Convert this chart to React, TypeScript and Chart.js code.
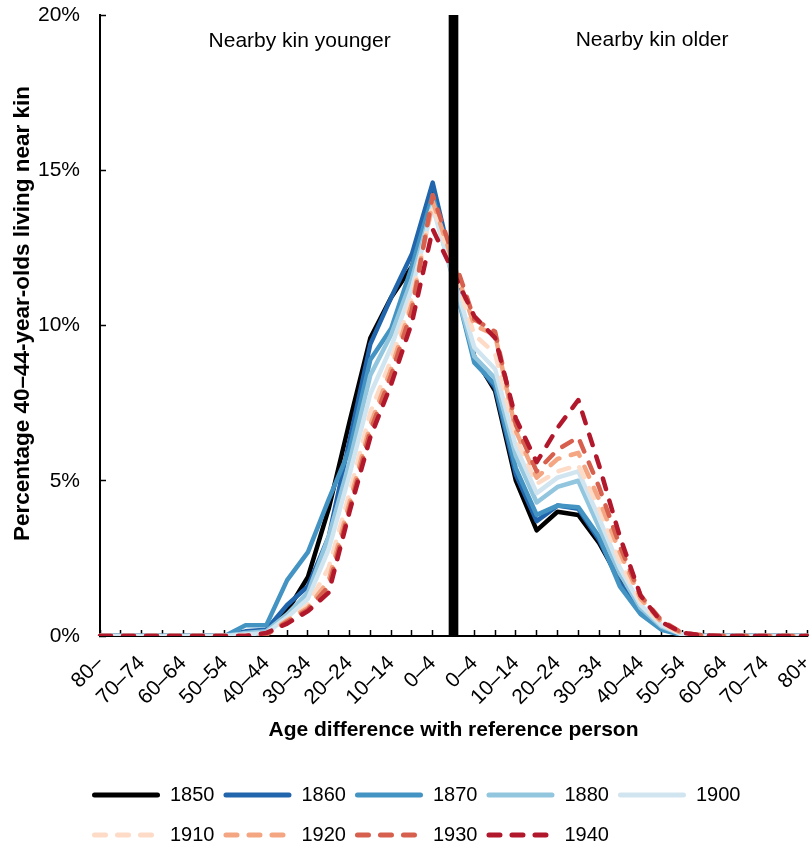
import React, { useEffect, useRef } from 'react';
import { Chart, registerables } from 'chart.js';

Chart.register(...registerables);

const FONT = "'Liberation Sans', Arial, Helvetica, sans-serif";

// Age-difference categories (left: kin younger, middle: reference, right: kin older)
const categories = [
  '80–', '75–79', '70–74', '65–69', '60–64', '55–59', '50–54', '45–49', '40–44',
  '35–39', '30–34', '25–29', '20–24', '15–19', '10–14', '5–9', '0–4',
  '',
  '0–4', '5–9', '10–14', '15–19', '20–24', '25–29', '30–34', '35–39', '40–44',
  '45–49', '50–54', '55–59', '60–64', '65–69', '70–74', '75–79', '80+',
];

const years = ['1850', '1860', '1870', '1880', '1900', '1910', '1920', '1930', '1940'];

// Percentage of 40–44-year-olds living near kin (middle slot is the reference divider)
const v1850 = [0, 0, 0, 0, 0, 0, 0, 0.05, 0.15, 0.8, 1.9, 4.1, 6.9, 9.6, 10.9, 11.9, 14.3, null, 9.0, 7.9, 5.0, 3.4, 4.0, 3.9, 3.0, 1.8, 0.9, 0.3, 0.05, 0, 0, 0, 0, 0, 0];
const v1860 = [0, 0, 0, 0, 0, 0, 0, 0.15, 0.2, 1.0, 1.6, 3.2, 6.3, 9.4, 10.9, 12.3, 14.6, null, 8.9, 8.0, 5.2, 3.7, 4.2, 4.1, 3.1, 1.7, 0.8, 0.25, 0.05, 0, 0, 0, 0, 0, 0];
const v1870 = [0, 0, 0, 0, 0, 0, 0, 0.35, 0.35, 1.8, 2.7, 4.4, 6.0, 8.9, 9.9, 11.9, 14.2, null, 8.8, 8.1, 5.4, 3.9, 4.2, 4.15, 3.2, 1.6, 0.7, 0.2, 0.03, 0, 0, 0, 0, 0, 0];
const v1880 = [0, 0, 0, 0, 0, 0, 0, 0.1, 0.15, 0.7, 1.4, 3.2, 5.6, 8.4, 9.7, 11.5, 13.9, null, 9.0, 8.3, 5.8, 4.3, 4.8, 5.0, 3.5, 2.0, 0.9, 0.3, 0.05, 0, 0, 0, 0, 0, 0];
const v1900 = [0, 0, 0, 0, 0, 0, 0, 0.05, 0.1, 0.6, 1.2, 2.8, 5.2, 7.8, 9.3, 11.2, 13.8, null, 9.3, 8.6, 6.1, 4.6, 5.1, 5.3, 3.8, 2.2, 1.0, 0.35, 0.05, 0, 0, 0, 0, 0, 0];
const v1910 = [0, 0, 0, 0, 0, 0, 0, 0, 0.05, 0.5, 1.0, 2.2, 4.6, 7.2, 8.9, 10.9, 13.9, null, 9.7, 9.1, 6.4, 4.9, 5.3, 5.5, 4.1, 2.4, 1.1, 0.4, 0.05, 0, 0, 0, 0, 0, 0];
const v1920 = [0, 0, 0, 0, 0, 0, 0, 0, 0.05, 0.5, 0.9, 1.8, 4.3, 6.8, 8.6, 10.7, 14.0, null, 10.0, 9.7, 6.6, 5.1, 5.7, 5.9, 4.4, 2.7, 1.2, 0.45, 0.08, 0, 0, 0, 0, 0, 0];
const v1930 = [0, 0, 0, 0, 0, 0, 0, 0, 0.05, 0.45, 0.85, 1.6, 4.1, 6.6, 8.4, 10.5, 14.2, null, 10.2, 9.8, 6.8, 5.3, 6.0, 6.4, 4.8, 2.9, 1.3, 0.5, 0.1, 0.02, 0, 0, 0, 0, 0];
const v1940 = [0, 0, 0, 0, 0, 0, 0, 0, 0.1, 0.4, 0.8, 1.4, 4.0, 6.4, 8.1, 10.1, 13.1, null, 10.3, 9.6, 7.0, 5.6, 6.7, 7.6, 5.5, 3.2, 1.3, 0.45, 0.1, 0.02, 0, 0, 0, 0, 0];

const seriesValues = [v1850, v1860, v1870, v1880, v1900, v1910, v1920, v1930, v1940];

// Vertical divider at the reference person (full-height bar)
const dividerValues = [
  null, null, null, null, null, null, null, null, null, null, null, null, null, null, null, null, null,
  20,
  null, null, null, null, null, null, null, null, null, null, null, null, null, null, null, null, null,
];

const seriesColors = ['#000000', '#2166ac', '#4393c3', '#92c5de', '#d1e5f0', '#fddbc7', '#f4a582', '#d6604d', '#b2182b'];
const seriesDashed = [false, false, false, false, false, true, true, true, true];

const yTickValues = [0, 5, 10, 15, 20];

const sideLabels = [
  { text: 'Nearby kin younger', x: 9.6, y: 19.15 },
  { text: 'Nearby kin older', x: 26.55, y: 19.2 },
];

const LEGEND_BOX = 68;
const DASH = [11, 12];
const Y_TITLE_SHIFT = -12;

const sideLabelPlugin = {
  id: 'sideLabels',
  afterDatasetsDraw(chart: any) {
    const { ctx, scales } = chart;
    const xs = scales.x;
    const ys = scales.y;
    ctx.save();
    ctx.font = `21px ${FONT}`;
    ctx.fillStyle = '#000';
    ctx.textAlign = 'center';
    ctx.textBaseline = 'middle';
    sideLabels.forEach((a) => {
      ctx.fillText(a.text, xs.getPixelForValue(a.x), ys.getPixelForValue(a.y));
    });
    ctx.restore();
  },
};

const layoutTweakPlugin = {
  id: 'layoutTweak',
  afterLayout(chart: any) {
    const lg = chart.legend;
    if (lg) {
      lg.left = chart.chartArea.left - 17;
      lg.top = lg.top + 14.5;
      lg.bottom = lg.bottom + 14.5;
    }
    const ys = chart.scales.y;
    if (ys && !ys.__titleShifted) {
      const orig = ys.drawTitle.bind(ys);
      ys.drawTitle = function () {
        const t = this.top;
        const b = this.bottom;
        this.top = t + Y_TITLE_SHIFT;
        this.bottom = b + Y_TITLE_SHIFT;
        orig();
        this.top = t;
        this.bottom = b;
      };
      ys.__titleShifted = true;
    }
  },
  afterDraw(chart: any) {
    const lg = chart.legend;
    if (!lg || !lg.legendItems) return;
    const ctx = chart.ctx;
    ctx.save();
    lg.legendItems.forEach((it: any, i: number) => {
      const hb = lg.legendHitBoxes[i];
      if (!hb) return;
      const ds = chart.data.datasets[it.datasetIndex];
      const yy = hb.top + hb.height / 2;
      ctx.strokeStyle = ds.borderColor;
      ctx.lineWidth = 5;
      ctx.lineCap = 'round';
      ctx.setLineDash(ds.borderDash || []);
      ctx.beginPath();
      ctx.moveTo(hb.left + 2.5, yy);
      ctx.lineTo(hb.left + LEGEND_BOX - 2.5, yy);
      ctx.stroke();
    });
    ctx.restore();
  },
};

export default function App() {
  const ref = useRef<HTMLCanvasElement | null>(null);

  useEffect(() => {
    if (!ref.current) return;
    const lineSets = years.map((y, i) => ({
      type: 'line',
      label: y,
      data: seriesValues[i],
      borderColor: seriesColors[i],
      backgroundColor: seriesColors[i],
      borderWidth: 4.5,
      borderDash: seriesDashed[i] ? DASH : [],
      borderCapStyle: 'round',
      borderJoinStyle: 'round',
      pointRadius: 0,
      pointHoverRadius: 0,
      tension: 0,
      spanGaps: true,
      fill: false,
      order: 20 - i,
    }));
    const barSet = {
      type: 'bar',
      label: 'reference',
      data: dividerValues,
      backgroundColor: '#000000',
      borderWidth: 0,
      barThickness: 9,
      order: 0,
    };

    const chart = new Chart(ref.current, {
      type: 'line',
      data: { labels: categories, datasets: [...lineSets, barSet] as any },
      options: {
        animation: false,
        responsive: false,
        events: [],
        layout: { padding: { top: 15, right: 2, left: 0, bottom: 0 } },
        scales: {
          x: {
            type: 'category',
            offset: false,
            grid: {
              offset: false,
              drawOnChartArea: false,
              drawTicks: true,
              tickLength: -6,
              tickColor: '#000',
              tickWidth: 1.5,
              color: '#000',
            },
            border: { color: '#000', width: 2 },
            ticks: {
              autoSkip: false,
              minRotation: 45,
              maxRotation: 45,
              padding: 21,
              color: '#000',
              font: { family: FONT, size: 21 },
              callback: (_v: any, idx: number) => (idx % 2 === 0 ? categories[idx] : ''),
            },
            title: {
              display: true,
              text: 'Age difference with reference person',
              color: '#000',
              font: { family: FONT, size: 21, weight: 'bold' },
              padding: { top: 0, bottom: 13 },
            },
            afterFit: (scale: any) => {
              scale.height = 120;
              scale.paddingLeft = 0;
              scale.paddingRight = 0;
            },
          } as any,
          y: {
            min: 0,
            max: 20,
            afterBuildTicks: (scale: any) => {
              scale.ticks = yTickValues.map((v) => ({ value: v }));
            },
            grid: {
              drawOnChartArea: false,
              drawTicks: true,
              tickLength: -6,
              tickColor: '#000',
              tickWidth: 1.5,
              color: '#000',
            },
            border: { color: '#000', width: 2 },
            ticks: {
              padding: 26,
              color: '#000',
              font: { family: FONT, size: 21 },
              callback: (v: any) => `${v}%`,
            },
            title: {
              display: true,
              text: 'Percentage 40–44-year-olds living near kin',
              color: '#000',
              font: { family: FONT, size: 22.5, weight: 'bold' },
              padding: { top: 9, bottom: 0 },
            },
            afterFit: (scale: any) => {
              scale.width = 100;
              scale.paddingTop = 0;
              scale.paddingBottom = 0;
            },
          } as any,
        },
        plugins: {
          tooltip: { enabled: false },
          legend: {
            display: true,
            position: 'bottom',
            align: 'start',
            fullSize: false,
            labels: {
              boxWidth: LEGEND_BOX,
              boxHeight: 31,
              padding: 9,
              color: '#000',
              font: { family: FONT, size: 20 },
              generateLabels: (ch: any) =>
                ch.data.datasets
                  .map((ds: any, i: number) => ({ ds, i }))
                  .filter((o: any) => o.ds.type === 'line')
                  .map((o: any) => ({
                    text: o.ds.label,
                    fillStyle: 'rgba(0,0,0,0)',
                    strokeStyle: 'rgba(0,0,0,0)',
                    lineWidth: 0,
                    hidden: false,
                    datasetIndex: o.i,
                    fontColor: '#000',
                  })),
            },
          },
        },
      } as any,
      plugins: [sideLabelPlugin, layoutTweakPlugin],
    });
    return () => chart.destroy();
  }, []);

  return (
    <div style={{ position: 'absolute', left: 0, top: 0, width: 809, height: 846 }}>
      <canvas ref={ref} width={809} height={846} style={{ display: 'block', width: 809, height: 846 }} />
    </div>
  );
}
